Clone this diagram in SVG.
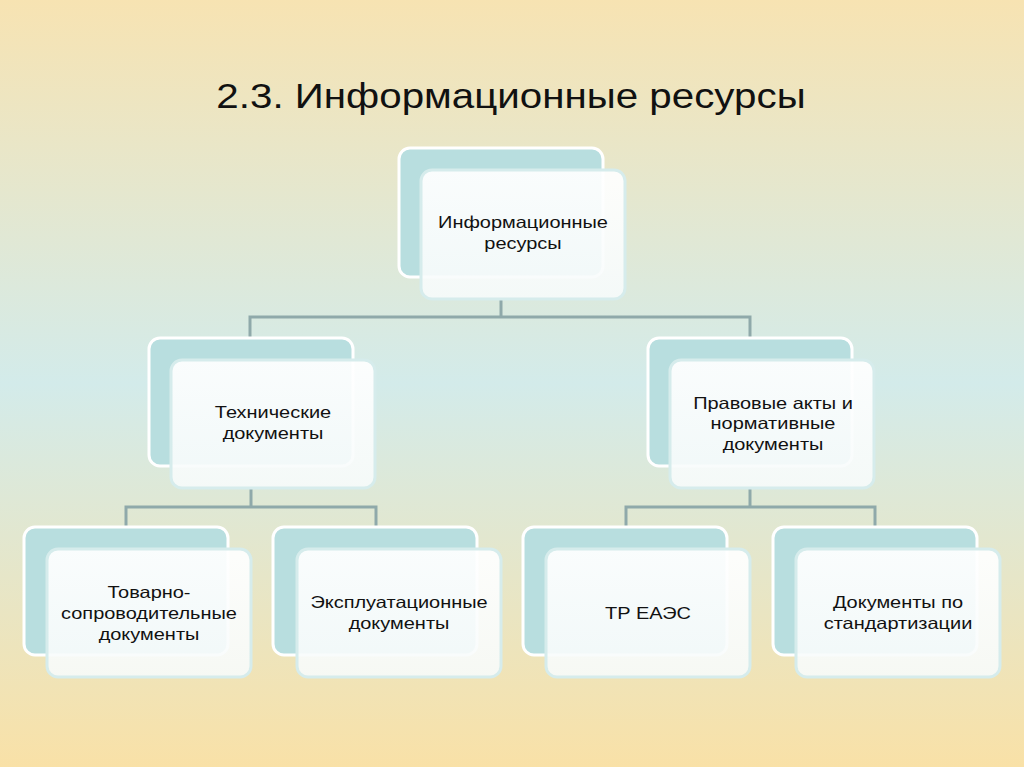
<svg xmlns="http://www.w3.org/2000/svg" width="1024" height="767" viewBox="0 0 1024 767">
<defs>
<linearGradient id="bg" x1="0" y1="0" x2="0" y2="1">
<stop offset="0" stop-color="#f7e3b2"/>
<stop offset="0.5" stop-color="#d3ebea"/>
<stop offset="1" stop-color="#f9e1a7"/>
</linearGradient>
<linearGradient id="front" x1="0" y1="0" x2="0" y2="1">
<stop offset="0" stop-color="#ffffff" stop-opacity="0.93"/>
<stop offset="1" stop-color="#f7fbfb" stop-opacity="0.9"/>
</linearGradient>
</defs>
<style>
.back{fill:#b8dedf;stroke:#ffffff;stroke-width:3}
.front{fill:url(#front);stroke:#d6ecec;stroke-width:3}
.t{font-family:"Liberation Sans",Arial,sans-serif;font-size:16.5px;fill:#111;text-anchor:middle}
.conn{fill:none;stroke:#8fa9aa;stroke-width:3}
</style>
<rect x="0" y="0" width="1024" height="767" fill="url(#bg)"/>
<text transform="translate(511,108) scale(1.12,1)" x="0" y="0" font-family="'Liberation Sans',Arial,sans-serif" font-size="36" fill="#111" text-anchor="middle">2.3. Информационные ресурсы</text>
<g id="connectors">
<path class="conn" d="M501 299V317M250 338V317H750V338"/>
<path class="conn" d="M251 488V507M126 527V507H376V527"/>
<path class="conn" d="M750 488V507M626 527V507H875V527"/>
</g>
<g id="n0">
<rect class="back" x="399" y="148" width="204" height="129" rx="11"/>
<rect class="front" x="421" y="170" width="204" height="129" rx="11"/>
<text class="t" transform="translate(523,228) scale(1.21,1)">Информационные</text>
<text class="t" transform="translate(523,249) scale(1.21,1)">ресурсы</text>
</g>
<g id="n1">
<rect class="back" x="149" y="338" width="204" height="128" rx="11"/>
<rect class="front" x="171" y="360" width="204" height="128" rx="11"/>
<text class="t" transform="translate(273,418) scale(1.21,1)">Технические</text>
<text class="t" transform="translate(273,439) scale(1.21,1)">документы</text>
</g>
<g id="n2">
<rect class="back" x="648" y="338" width="204" height="128" rx="11"/>
<rect class="front" x="670" y="360" width="204" height="128" rx="11"/>
<text class="t" transform="translate(773,409) scale(1.21,1)">Правовые акты и</text>
<text class="t" transform="translate(773,429) scale(1.21,1)">нормативные</text>
<text class="t" transform="translate(773,450) scale(1.21,1)">документы</text>
</g>
<g id="n3">
<rect class="back" x="24" y="527" width="204" height="128" rx="11"/>
<rect class="front" x="47" y="549" width="204" height="128" rx="11"/>
<text class="t" transform="translate(149,598) scale(1.21,1)">Товарно-</text>
<text class="t" transform="translate(149,619) scale(1.21,1)">сопроводительные</text>
<text class="t" transform="translate(149,640) scale(1.21,1)">документы</text>
</g>
<g id="n4">
<rect class="back" x="273" y="527" width="204" height="128" rx="11"/>
<rect class="front" x="297" y="549" width="204" height="128" rx="11"/>
<text class="t" transform="translate(399,608) scale(1.21,1)">Эксплуатационные</text>
<text class="t" transform="translate(399,629) scale(1.21,1)">документы</text>
</g>
<g id="n5">
<rect class="back" x="523" y="527" width="204" height="128" rx="11"/>
<rect class="front" x="546" y="549" width="204" height="128" rx="11"/>
<text class="t" transform="translate(648,619) scale(1.21,1)">ТР ЕАЭС</text>
</g>
<g id="n6">
<rect class="back" x="773" y="527" width="204" height="128" rx="11"/>
<rect class="front" x="796" y="549" width="204" height="128" rx="11"/>
<text class="t" transform="translate(898,608) scale(1.21,1)">Документы по</text>
<text class="t" transform="translate(898,629) scale(1.21,1)">стандартизации</text>
</g>
</svg>
